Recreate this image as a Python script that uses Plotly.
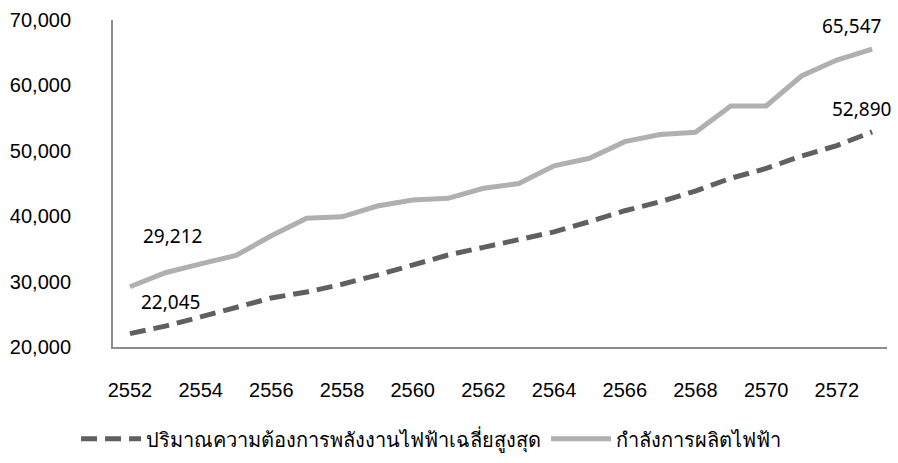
import plotly.graph_objects as go

years = [str(y) for y in range(2552, 2574)]
tick_labels = [str(y) for y in range(2552, 2574, 2)]
demand = [22045, 23200, 24600, 26000, 27500, 28400, 29600, 31000, 32500, 34070,
          35240, 36360, 37600, 39160, 40840, 42200, 43850, 45800, 47300, 49200,
          50800, 52890]
capacity = [29212, 31360, 32700, 34000, 37000, 39700, 39900, 41560, 42480, 42730,
            44270, 45000, 47700, 48850, 51400, 52500, 52830, 56850, 56850, 61440,
            63880, 65547]
demand_name = "ปริมาณความต้องการพลังงานไฟฟ้าเฉลี่ยสูงสุด"
capacity_name = "กำลังการผลิตไฟฟ้า"

fig = go.Figure()
fig.add_trace(go.Scatter(x=years, y=demand, mode="lines", name=demand_name,
                         line=dict(color="#606060", width=5, dash="16px,8px")))
fig.add_trace(go.Scatter(x=years, y=capacity, mode="lines", name=capacity_name,
                         line=dict(color="#b0b0b0", width=5)))

label_font = dict(family="Noto Sans, Liberation Sans", size=19, color="#000000")
first, last = 0, len(years) - 1
annos = [
    (first, capacity[first], 43, 51),
    (first, demand[first], 41, 32),
    (last, capacity[last], -21, 23),
    (last, demand[last], -11, 23),
]
for i, y, xs, ys in annos:
    fig.add_annotation(x=i, y=y, xref="x", yref="y", text=f"{y:,}", showarrow=False,
                       xshift=xs, yshift=ys, font=label_font)

fig.update_layout(
    width=898, height=463,
    paper_bgcolor="white", plot_bgcolor="white",
    margin=dict(l=113, r=11, t=20, b=116, autoexpand=False),
    font=dict(family="Liberation Sans, Arial", size=20, color="#000000"),
    showlegend=True,
    legend=dict(orientation="h", x=0.48, xanchor="center", xref="container",
                y=0.01, yanchor="bottom", yref="container",
                font=dict(family="Noto Sans, Liberation Sans", size=20, color="#000000"),
                itemwidth=60),
    xaxis=dict(type="category", range=[-0.48, 21.42], tickmode="array",
               tickvals=tick_labels, ticktext=tick_labels, showgrid=False,
               showline=True, linecolor="#8c8c8c", linewidth=2, ticks="",
               ticklabelstandoff=24, tickfont=dict(size=20), automargin=False),
    yaxis=dict(range=[20000, 70000], dtick=10000, tickformat=",", showgrid=False,
               showline=True, linecolor="#8c8c8c", linewidth=2, ticks="",
               ticklabelstandoff=36, tickfont=dict(size=20), zeroline=False,
               automargin=False),
)
fig.write_html("out.html", config={"displayModeBar": False},
               post_script="document.body.style.margin='0';document.body.style.overflow='hidden';")
